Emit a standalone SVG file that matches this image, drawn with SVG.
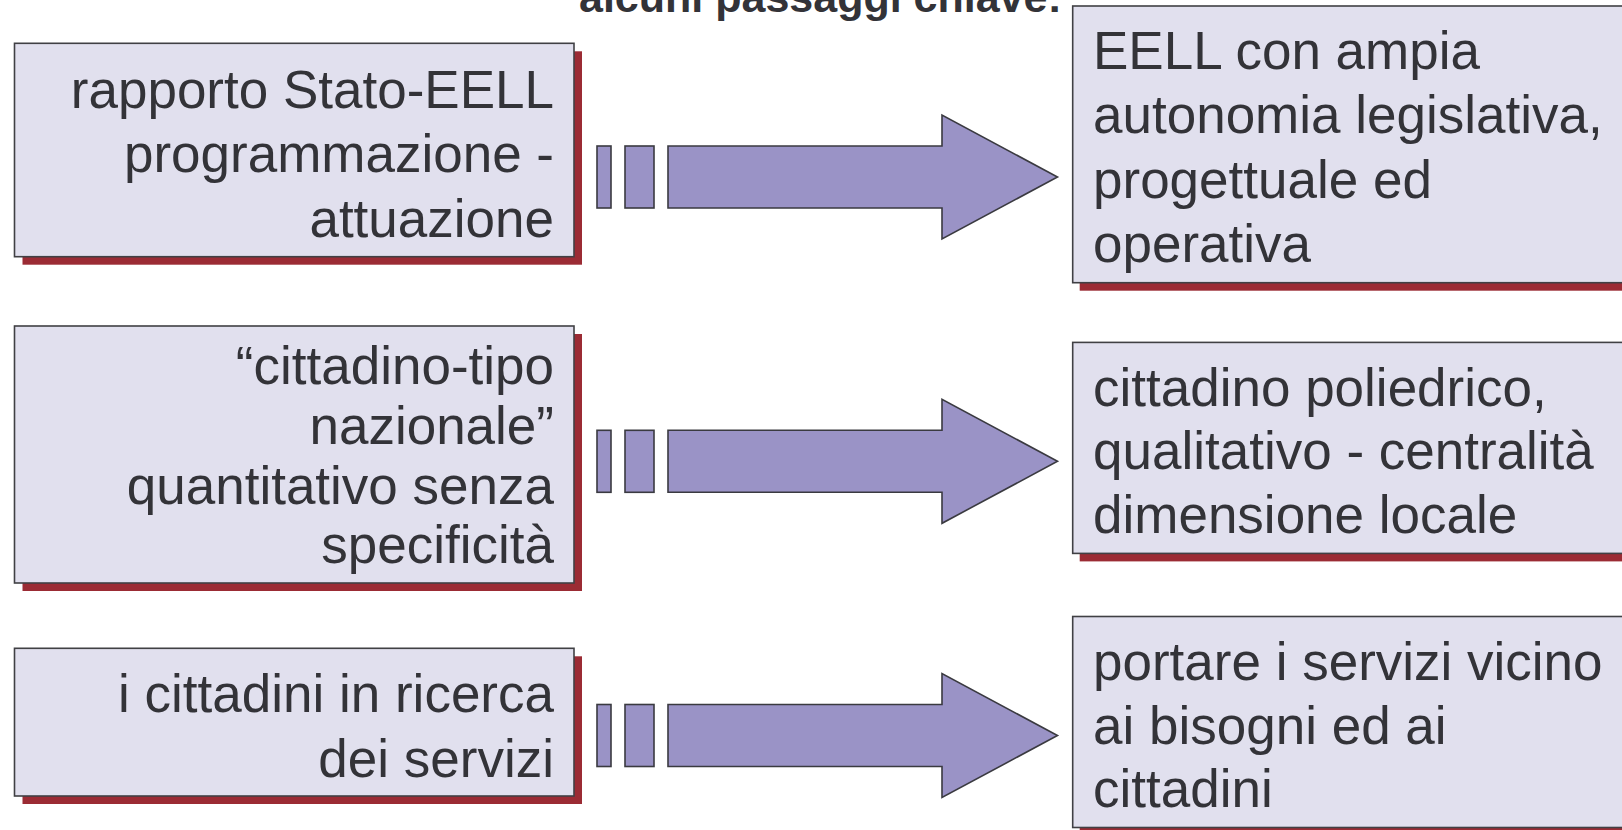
<svg xmlns="http://www.w3.org/2000/svg" width="1622" height="830" viewBox="0 0 1622 830">
<style>
.box{fill:#e1e0ee;stroke:#404044;stroke-width:1.6}
.sh{fill:#9b2b34}
.ar{fill:#9a93c6;stroke:#3a3a40;stroke-width:1.6;stroke-linejoin:miter}
.t{font-family:"Liberation Sans",Arial,sans-serif;font-size:53px;fill:#333338}
.r{text-anchor:end}
.title{font-family:"Liberation Sans",Arial,sans-serif;font-size:43px;font-weight:bold;fill:#333338}
</style>
<defs>
<g id="arrowShape">
<rect x="597" y="-31" width="14" height="62"/>
<rect x="625" y="-31" width="29" height="62"/>
<path d="M668,-31 H942 V-62 L1057.5,0 L942,62 V31 H668 Z"/>
</g>
</defs>
<rect width="1622" height="830" fill="#ffffff"/>
<text class="title" x="579" y="12">alcuni passaggi chiave:</text>

<g id="left1">
<rect class="sh" x="22.5" y="51.3" width="559.5" height="213.4"/>
<rect class="box" x="14.5" y="43.3" width="559.5" height="213.4"/>
<text class="t r" x="554" y="108.3">rapporto Stato-EELL</text>
<text class="t r" x="554" y="171.7">programmazione -</text>
<text class="t r" x="554" y="236.7">attuazione</text>
</g>

<g id="left2">
<rect class="sh" x="22.5" y="334" width="559.5" height="257"/>
<rect class="box" x="14.5" y="326" width="559.5" height="257"/>
<text class="t r" x="554" y="384.3">“cittadino-tipo</text>
<text class="t r" x="554" y="444">nazionale”</text>
<text class="t r" x="554" y="504.3">quantitativo senza</text>
<text class="t r" x="554" y="563.3">specificità</text>
</g>

<g id="left3">
<rect class="sh" x="22.5" y="656.3" width="559.5" height="147.7"/>
<rect class="box" x="14.5" y="648.3" width="559.5" height="147.7"/>
<text class="t r" x="554" y="711.7">i cittadini in ricerca</text>
<text class="t r" x="554" y="776.7">dei servizi</text>
</g>

<g id="right1">
<rect class="sh" x="1079.7" y="14" width="600" height="276.7"/>
<rect class="box" x="1072.7" y="6" width="600" height="276.7"/>
<text class="t" x="1093" y="69.3">EELL con ampia</text>
<text class="t" x="1093" y="133.3">autonomia legislativa,</text>
<text class="t" x="1093" y="198.3">progettuale ed</text>
<text class="t" x="1093" y="261.7">operativa</text>
</g>

<g id="right2">
<rect class="sh" x="1079.7" y="350.4" width="600" height="211"/>
<rect class="box" x="1072.7" y="342.4" width="600" height="211"/>
<text class="t" x="1093" y="405.6">cittadino poliedrico,</text>
<text class="t" x="1093" y="469.4">qualitativo - centralità</text>
<text class="t" x="1093" y="533.2">dimensione locale</text>
</g>

<g id="right3">
<rect class="sh" x="1079.7" y="624.5" width="600" height="211"/>
<rect class="box" x="1072.7" y="616.5" width="600" height="211"/>
<text class="t" x="1093" y="679.8">portare i servizi vicino</text>
<text class="t" x="1093" y="743.6">ai bisogni ed ai</text>
<text class="t" x="1093" y="807.4">cittadini</text>
</g>

<g id="connectors" class="ar">
<use href="#arrowShape" transform="translate(0,177)"/>
<use href="#arrowShape" transform="translate(0,461.3)"/>
<use href="#arrowShape" transform="translate(0,735.5)"/>
</g>
</svg>
